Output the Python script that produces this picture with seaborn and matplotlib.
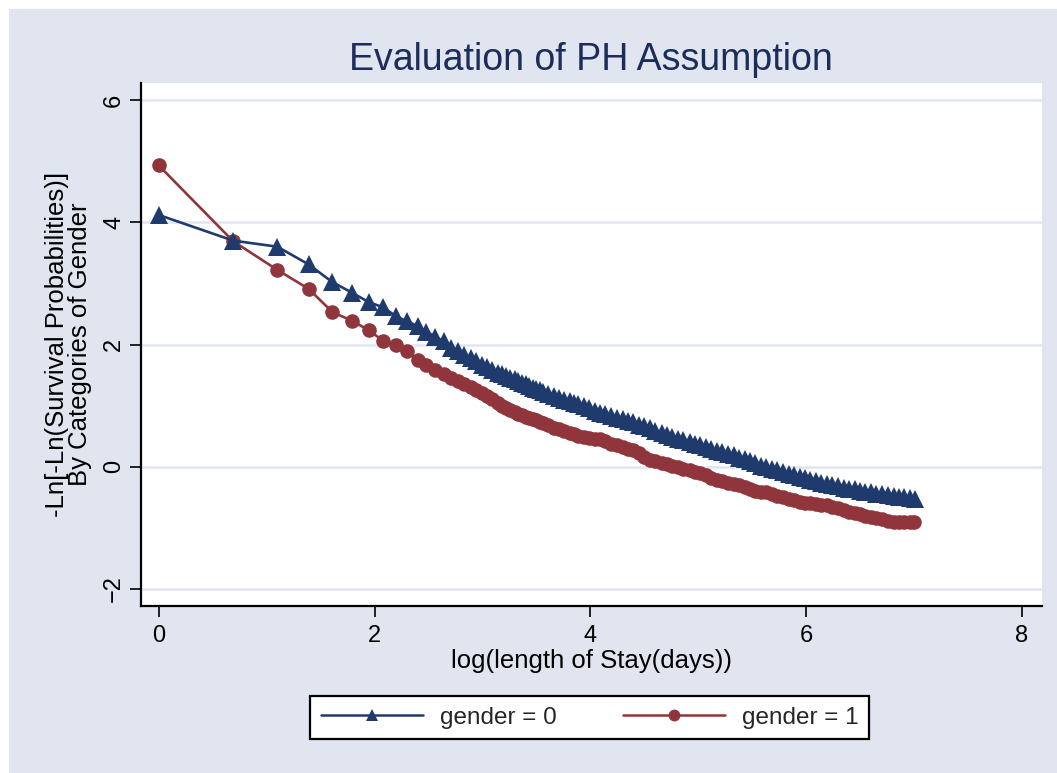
import pandas as pd
import matplotlib
matplotlib.use("Agg")
import matplotlib.pyplot as plt
import seaborn as sns
from matplotlib.lines import Line2D
from matplotlib.patches import Rectangle

# log(length of stay) and -ln(-ln(S)), gender = 0
log_t_g0 = [0.00, 0.69, 1.10, 1.39, 1.61, 1.79, 1.95, 2.08, 2.20, 2.30,
            2.40, 2.48, 2.56, 2.64, 2.71, 2.77, 2.83, 2.89, 2.94, 3.00,
            3.04, 3.09, 3.14, 3.18, 3.22, 3.26, 3.30, 3.33, 3.37, 3.40,
            3.43, 3.47, 3.50, 3.53, 3.56, 3.61, 3.66, 3.71, 3.76, 3.81,
            3.85, 3.89, 3.94, 3.99, 4.04, 4.09, 4.14, 4.19, 4.25, 4.30,
            4.35, 4.40, 4.45, 4.50, 4.55, 4.60, 4.66, 4.71, 4.76, 4.81,
            4.86, 4.92, 4.97, 5.02, 5.07, 5.12, 5.17, 5.22, 5.28, 5.33,
            5.38, 5.43, 5.48, 5.53, 5.58, 5.63, 5.68, 5.73, 5.79, 5.84,
            5.89, 5.94, 5.99, 6.04, 6.09, 6.14, 6.19, 6.24, 6.30, 6.35,
            6.40, 6.45, 6.50, 6.55, 6.60, 6.65, 6.70, 6.76, 6.81, 6.86,
            6.91, 6.96, 7.01]
lnln_g0 = [4.12, 3.70, 3.60, 3.31, 3.02, 2.85, 2.69, 2.61, 2.46, 2.38,
           2.30, 2.21, 2.13, 2.05, 1.95, 1.89, 1.83, 1.78, 1.73, 1.67,
           1.63, 1.58, 1.54, 1.51, 1.49, 1.46, 1.43, 1.41, 1.37, 1.35,
           1.32, 1.29, 1.27, 1.25, 1.22, 1.19, 1.16, 1.13, 1.10, 1.07,
           1.05, 1.02, 1.00, 0.96, 0.92, 0.88, 0.86, 0.83, 0.80, 0.78,
           0.75, 0.73, 0.69, 0.66, 0.63, 0.59, 0.55, 0.52, 0.49, 0.46,
           0.43, 0.40, 0.38, 0.35, 0.32, 0.29, 0.26, 0.24, 0.21, 0.19,
           0.15, 0.12, 0.09, 0.06, 0.02, 0.00, -0.03, -0.06, -0.09, -0.11,
           -0.14, -0.17, -0.19, -0.22, -0.24, -0.26, -0.28, -0.30, -0.32, -0.34,
           -0.36, -0.37, -0.39, -0.41, -0.42, -0.44, -0.45, -0.46, -0.48, -0.49,
           -0.50, -0.51, -0.52]

# gender = 1
log_t_g1 = [0.00, 0.69, 1.10, 1.39, 1.61, 1.79, 1.95, 2.08, 2.20, 2.30,
            2.40, 2.48, 2.56, 2.64, 2.71, 2.77, 2.83, 2.89, 2.94, 3.00,
            3.04, 3.09, 3.14, 3.18, 3.22, 3.26, 3.30, 3.33, 3.37, 3.40,
            3.43, 3.47, 3.50, 3.53, 3.56, 3.61, 3.66, 3.71, 3.76, 3.81,
            3.85, 3.89, 3.94, 3.99, 4.04, 4.09, 4.14, 4.19, 4.25, 4.30,
            4.35, 4.40, 4.45, 4.50, 4.55, 4.60, 4.66, 4.71, 4.76, 4.81,
            4.86, 4.92, 4.97, 5.02, 5.07, 5.12, 5.17, 5.22, 5.28, 5.33,
            5.38, 5.43, 5.48, 5.53, 5.58, 5.63, 5.68, 5.73, 5.79, 5.84,
            5.89, 5.94, 5.99, 6.04, 6.09, 6.14, 6.19, 6.24, 6.30, 6.35,
            6.40, 6.45, 6.50, 6.55, 6.60, 6.65, 6.70, 6.76, 6.81, 6.86,
            6.91, 6.96, 7.00]
lnln_g1 = [4.93, 3.69, 3.22, 2.91, 2.53, 2.39, 2.23, 2.06, 1.99, 1.90,
           1.75, 1.67, 1.59, 1.51, 1.45, 1.41, 1.36, 1.31, 1.26, 1.20,
           1.16, 1.11, 1.05, 1.00, 0.96, 0.93, 0.90, 0.87, 0.84, 0.82,
           0.80, 0.78, 0.76, 0.73, 0.71, 0.68, 0.64, 0.61, 0.58, 0.55,
           0.53, 0.51, 0.49, 0.47, 0.46, 0.45, 0.42, 0.38, 0.35, 0.32,
           0.29, 0.27, 0.22, 0.16, 0.11, 0.09, 0.07, 0.05, 0.02, -0.01,
           -0.03, -0.05, -0.08, -0.10, -0.14, -0.18, -0.22, -0.24, -0.26, -0.28,
           -0.30, -0.33, -0.36, -0.39, -0.41, -0.42, -0.45, -0.48, -0.50, -0.53,
           -0.55, -0.57, -0.59, -0.60, -0.61, -0.62, -0.62, -0.65, -0.68, -0.71,
           -0.74, -0.76, -0.77, -0.80, -0.82, -0.84, -0.86, -0.89, -0.90, -0.90,
           -0.91, -0.91, -0.90]

x_ticks = [0, 2, 4, 6, 8]
y_ticks = [-2, 0, 2, 4, 6]

navy = "#1f3b6e"
maroon = "#90353b"
bg = "#e1e5ef"
grid_col = "#e1e5ef"

sns.set_style("white")
plt.rcParams["font.family"] = ["Liberation Sans", "DejaVu Sans"]

df0 = pd.DataFrame({"x": log_t_g0, "y": lnln_g0})
df1 = pd.DataFrame({"x": log_t_g1, "y": lnln_g1})

fig = plt.figure(figsize=(10.57, 7.73), dpi=100, facecolor="white")
fig.patches.append(Rectangle((9 / 1057, 0), 1, 1 - 9 / 773, transform=fig.transFigure,
                             facecolor=bg, edgecolor="none", zorder=-10))
ax = fig.add_axes([0.1334, 0.2160, 0.8524, 0.6766])
ax.set_facecolor("white")

for yv in y_ticks:
    ax.axhline(yv, color=grid_col, lw=1.8, zorder=0)

sns.lineplot(data=df0, x="x", y="y", ax=ax, color=navy, lw=1.9, marker="^",
             markersize=12.5, markeredgewidth=0, sort=False, estimator=None, zorder=3)
sns.lineplot(data=df1, x="x", y="y", ax=ax, color=maroon, lw=1.9, marker="o",
             markersize=10.5, markeredgewidth=0, sort=False, estimator=None, zorder=2)

ax.set_xlim(-0.164, 8.186)
ax.set_ylim(-2.278, 6.278)
ax.set_xticks(x_ticks)
ax.set_yticks(y_ticks)
ax.tick_params(axis="both", direction="out", length=8, width=1.2, color="black",
               labelsize=17, labelcolor="black", bottom=True, left=True)
ax.tick_params(axis="x", pad=6)
for lab in ax.get_yticklabels():
    lab.set_rotation(90)
    lab.set_va("center")
for side in ["top", "right"]:
    ax.spines[side].set_visible(False)
for side in ["left", "bottom"]:
    ax.spines[side].set_color("black")
    ax.spines[side].set_linewidth(1.6)

ax.set_xlabel("log(length of Stay(days))", fontsize=18.5, color="black", labelpad=1)
ax.set_ylabel("-Ln[-Ln(Survival Probabilities)]\nBy Categories of Gender",
              fontsize=18.5, color="black", labelpad=8, linespacing=0.95)

fig.text(0.559, 0.923, "Evaluation of PH Assumption", ha="center", va="center",
         fontsize=27, color="#1c2d5c")

handles = [
    Line2D([], [], color=navy, lw=1.8, marker="^", markersize=9, markeredgewidth=0),
    Line2D([], [], color=maroon, lw=1.8, marker="o", markersize=8.5, markeredgewidth=0),
]
leg = fig.legend(handles, ["gender = 0", "gender = 1"], loc="center",
                 bbox_to_anchor=(0.558, 0.0718), ncol=2, fontsize=17.5,
                 frameon=True, fancybox=False, edgecolor="black", facecolor="white",
                 framealpha=1, handlelength=4.2, handletextpad=0.7,
                 columnspacing=2.7, borderpad=0.45, numpoints=1)
leg.get_frame().set_linewidth(1.6)

fig.savefig("out.png", dpi=100, facecolor=fig.get_facecolor())
